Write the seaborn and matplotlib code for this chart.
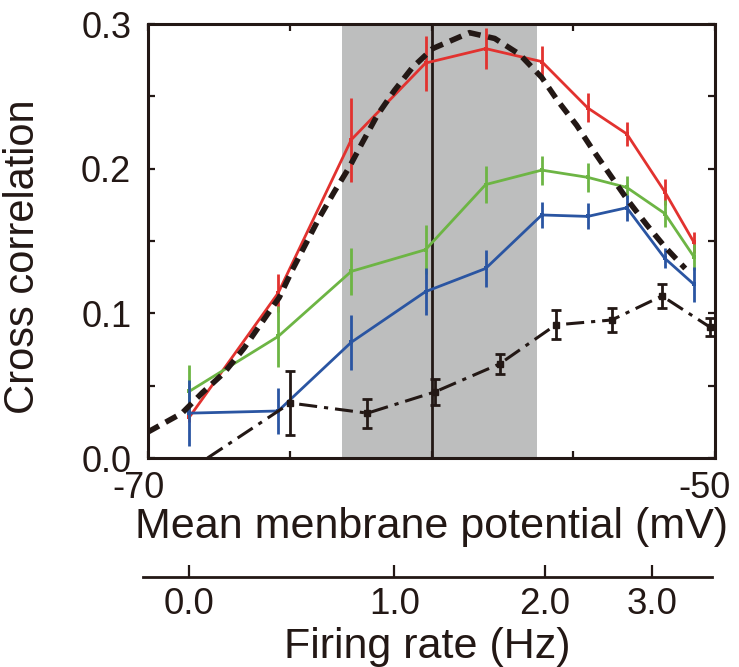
import numpy as np
import pandas as pd
import matplotlib
matplotlib.use("Agg")
import matplotlib.pyplot as plt
import matplotlib.transforms as mtransforms
import seaborn as sns

# ---------------- data ----------------
vm = [-68.55, -65.41, -62.83, -60.21, -58.09, -56.11, -54.49, -53.11, -51.77, -50.74]
red_cc = [0.028, 0.114, 0.220, 0.273, 0.283, 0.274, 0.242, 0.224, 0.184, 0.149]
red_err = [0.003, 0.013, 0.029, 0.019, 0.014, 0.011, 0.010, 0.008, 0.009, 0.007]
green_cc = [0.046, 0.084, 0.129, 0.144, 0.189, 0.199, 0.194, 0.187, 0.169, 0.139]
green_err = [0.018, 0.021, 0.016, 0.017, 0.013, 0.010, 0.010, 0.008, 0.009, 0.009]
blue_cc = [0.031, 0.0325, 0.080, 0.115, 0.131, 0.168, 0.167, 0.173, 0.138, 0.120]
blue_err = [0.023, 0.016, 0.019, 0.016, 0.013, 0.009, 0.009, 0.009, 0.007, 0.012]

black_vm = [-67.9, -64.98, -62.26, -59.89, -57.60, -55.62, -53.64, -51.87, -50.18]
black_cc = [0.0, 0.038, 0.031, 0.0456, 0.065, 0.092, 0.0954, 0.112, 0.0905]
black_err = [0.0, 0.022, 0.010, 0.009, 0.007, 0.010, 0.008, 0.008, 0.006]

theory_vm = [-70.0, -68.80, -68.09, -67.31, -66.61, -66.01, -65.37, -64.91, -63.96,
             -63.43, -62.90, -62.44, -61.91, -61.31, -60.67, -59.96, -58.66, -57.77,
             -56.89, -56.11, -55.55, -54.88, -54.31, -53.71, -53.07, -52.40, -51.77,
             -51.05]
theory_cc = [0.018, 0.031, 0.045, 0.059, 0.076, 0.093, 0.111, 0.130, 0.166,
             0.184, 0.201, 0.218, 0.237, 0.254, 0.270, 0.283, 0.294, 0.290,
             0.279, 0.263, 0.247, 0.230, 0.213, 0.196, 0.178, 0.161, 0.146,
             0.131]

shade_range = (-63.14, -56.29)
vline_vm = -60.0

x_ticks = [-70, -65, -60, -55, -50]
x_ticklabels = ["-70", "", "", "", "-50"]
y_ticks = [0.0, 0.05, 0.1, 0.15, 0.2, 0.25, 0.3]
y_ticklabels = ["0.0", "", "0.1", "", "0.2", "", "0.3"]

fr_labels = ["0.0", "1.0", "2.0", "3.0"]
fr_tick_vm = [-68.55, -61.31, -56.01, -52.23]

# ---------------- style ----------------
sns.set_theme(style="ticks")
plt.rcParams['font.family'] = ['Liberation Sans', 'DejaVu Sans']
plt.rcParams['lines.scale_dashes'] = False

RED = "#E2322F"
GREEN = "#6DB544"
BLUE = "#2A55A2"
BLACK = "#231815"
GRAY = "#BDBEBE"

W, H = 739, 667
fig = plt.figure(figsize=(W / 100, H / 100), dpi=100)
L, R, T, B = 148, 715, 24, 458
ax = fig.add_axes([L / W, (H - B) / H, (R - L) / W, (B - T) / H])

ax.axvspan(*shade_range, color=GRAY, lw=0, zorder=0)
ax.axvline(vline_vm, color=BLACK, lw=2.0, zorder=1)

series = [(red_cc, red_err, RED), (green_cc, green_err, GREEN), (blue_cc, blue_err, BLUE)]
for cc, err, col in series:
    df = pd.DataFrame({"vm": vm, "cc": cc})
    sns.lineplot(data=df, x="vm", y="cc", ax=ax, color=col, lw=2.0, marker="s",
                 markersize=3.5, markeredgewidth=0, sort=False, zorder=3)
    ax.errorbar(vm, cc, yerr=err, fmt="none", ecolor=col, elinewidth=2.0, capsize=0, zorder=3)

# black dash-dot series with capped error bars
dfb = pd.DataFrame({"vm": black_vm, "cc": black_cc})
sns.lineplot(data=dfb, x="vm", y="cc", ax=ax, color=BLACK, lw=2.2, sort=False, zorder=4)
ax.lines[-1].set_dashes((13, 5, 3, 5))
bvm = [v for v, e in zip(black_vm, black_err) if e > 0]
bcc = [c for c, e in zip(black_cc, black_err) if e > 0]
berr = [e for e in black_err if e > 0]
ax.errorbar(bvm, bcc, yerr=berr, fmt="s", color=BLACK, ms=4, elinewidth=2.0,
            capsize=3.5, capthick=2.0, zorder=4)

# theory curve (thick dashed)
dft = pd.DataFrame({"vm": theory_vm, "cc": theory_cc})
sns.lineplot(data=dft, x="vm", y="cc", ax=ax, color=BLACK, lw=4.0, sort=False, zorder=5)
ax.lines[-1].set_dashes((9, 5.5))
ax.lines[-1].set_dash_capstyle("butt")

ax.set_xlim(-70, -50)
ax.set_ylim(0, 0.3)
ax.set_xticks(x_ticks)
ax.set_xticklabels(x_ticklabels)
ax.set_yticks(y_ticks)
ax.set_yticklabels(y_ticklabels)
ax.tick_params(direction="in", length=5, width=1.6, top=True, right=True,
               labelsize=26, colors=BLACK)
ax.tick_params(axis="y", pad=12)
ax.tick_params(axis="x", pad=9)
shift = mtransforms.ScaledTranslation(-10 / 100, 0, fig.dpi_scale_trans)
for lab in ax.get_xticklabels():
    lab.set_transform(lab.get_transform() + shift)
for s in ax.spines.values():
    s.set_linewidth(2.2)
    s.set_color(BLACK)
    s.set_visible(True)
ax.set_xlabel("Mean menbrane potential (mV)", fontsize=31, labelpad=1, color=BLACK)
ax.set_ylabel("Cross correlation", fontsize=30, color=BLACK)
ax.yaxis.set_label_coords(-0.185, 0.465)

# firing-rate axis below
pxu = (x_ticks[-1] - x_ticks[0]) / (R - L)
L2, R2, Y2 = 143, 712, 577
ax2 = fig.add_axes([L2 / W, (H - Y2) / H, (R2 - L2) / W, 0.0001])
ax2.set_xlim(x_ticks[0] + (L2 - L) * pxu, x_ticks[0] + (R2 - L) * pxu)
ax2.set_facecolor("none")
for k in ["left", "right", "top"]:
    ax2.spines[k].set_visible(False)
ax2.spines["bottom"].set_linewidth(2.0)
ax2.spines["bottom"].set_color(BLACK)
ax2.set_yticks([])
ax2.set_xticks(fr_tick_vm)
ax2.set_xticklabels(fr_labels)
ax2.tick_params(axis="x", direction="in", length=9, width=1.6, labelsize=26.5,
                pad=7, colors=BLACK)
ax2.set_xlabel("Firing rate (Hz)", fontsize=31, labelpad=4, color=BLACK)

fig.savefig("out.png", dpi=100)
